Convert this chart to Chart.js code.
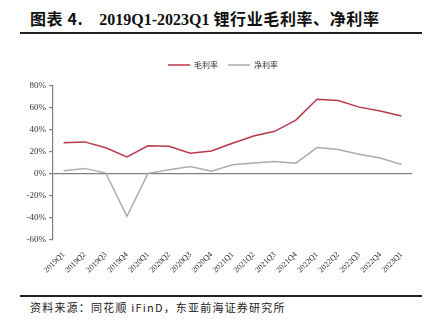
<!DOCTYPE html>
<html>
<head>
<meta charset="utf-8">
<script src="https://cdn.jsdelivr.net/npm/chart.js@4.4.0/dist/chart.umd.min.js"></script>
<style>
  body { margin: 0; background: #fff; width: 436px; height: 331px; position: relative; overflow: hidden; }
  #title { position: absolute; left: 30px; top: 6px; font: bold 16px "Liberation Serif", "Noto Sans CJK SC", serif; color: #111; white-space: nowrap; }
  #title .cjk { font-family: "Noto Sans CJK SC", sans-serif; font-weight: bold; letter-spacing: 0.6px; }
  .rule { position: absolute; left: 20px; width: 402px; height: 2px; background: #222; }
  #wrap { position: absolute; left: 0; top: 45px; width: 436px; height: 245px; }
  #foot { position: absolute; left: 30px; top: 299px; font: 11px "Noto Sans CJK SC", "Liberation Serif", serif; letter-spacing: 1.2px; color: #222; white-space: nowrap; }
</style>
</head>
<body>
<div id="title"><span class="cjk">图表 4.</span>&nbsp;&nbsp;&nbsp;&nbsp;2019Q1-2023Q1 <span class="cjk">锂行业毛利率、净利率</span></div>
<div class="rule" style="top:32px"></div>
<div id="wrap"><canvas id="myChart"></canvas></div>
<div class="rule" style="top:295px"></div>
<div id="foot">资料来源：同花顺 iFinD，东亚前海证券研究所</div>

<script>
// quarters and margins (%)
const quarters = ['2019Q1', '2019Q2', '2019Q3', '2019Q4', '2020Q1', '2020Q2', '2020Q3', '2020Q4',
  '2021Q1', '2021Q2', '2021Q3', '2021Q4', '2022Q1', '2022Q2', '2022Q3', '2022Q4', '2023Q1'];
const grossMargin = [28.4, 29.2, 23.8, 15.5, 25.6, 25.2, 18.9, 20.9, 28.0, 34.6, 38.8, 49.0, 68.0, 66.8, 60.8, 57.3, 52.8];
const netMargin = [3.0, 5.1, 0.8, -38.4, 0.6, 3.9, 6.9, 2.6, 8.4, 10.0, 11.4, 9.8, 24.0, 22.2, 18.0, 14.5, 8.6];

const serif = 'Liberation Serif';

// more room under the legend, and nudge it right like the original
const legendTweak = {
  id: 'legendTweak',
  beforeInit(chart) {
    const fit = chart.legend.fit;
    chart.legend.fit = function () {
      fit.bind(chart.legend)();
      this.height += 7;
    };
  },
  afterLayout(chart) {
    chart.legend.left += 17;
    chart.legend.right += 17;
  }
};

var ctx = document.getElementById('myChart').getContext('2d');

new Chart(ctx, {
  type: 'line',
  data: {
    labels: quarters,
    datasets: [{
      label: '毛利率',
      data: grossMargin,
      borderColor: '#b8394c',
      backgroundColor: '#b8394c',
      borderWidth: 1.5,
      pointRadius: 0,
      tension: 0
    }, {
      label: '净利率',
      data: netMargin,
      borderColor: '#adadad',
      backgroundColor: '#adadad',
      borderWidth: 1.5,
      pointRadius: 0,
      tension: 0
    }]
  },
  options: {
    responsive: true,
    maintainAspectRatio: false,
    animation: false,
    layout: { padding: { left: 0, right: 24, top: 6, bottom: 0 } },
    scales: {
      x: {
        offset: true,
        grid: { display: false },
        border: { display: false },
        ticks: {
          autoSkip: false,
          maxRotation: 45,
          minRotation: 45,
          padding: 2,
          color: '#333',
          font: { family: serif, size: 8 }
        },
        afterFit: s => { s.height = 50; }
      },
      y: {
        min: -60,
        max: 80,
        ticks: {
          stepSize: 20,
          padding: 3,
          color: '#333',
          font: { family: serif, size: 9 },
          callback: v => v + '%'
        },
        grid: {
          color: c => c.tick && c.tick.value === 0 ? '#7f7f7f' : 'rgba(0,0,0,0)',
          lineWidth: 1.2,
          tickColor: '#7f7f7f',
          tickLength: 4
        },
        border: { color: '#7f7f7f', width: 1.2 },
        afterFit: s => { s.width = 53; }
      }
    },
    plugins: {
      legend: {
        display: true,
        position: 'top',
        labels: {
          usePointStyle: true,
          pointStyle: 'line',
          pointStyleWidth: 22,
          padding: 10,
          color: '#333',
          font: { family: 'Noto Sans CJK SC', size: 8 }
        }
      },
      tooltip: { enabled: false }
    }
  },
  plugins: [legendTweak]
});
</script>
</body>
</html>
